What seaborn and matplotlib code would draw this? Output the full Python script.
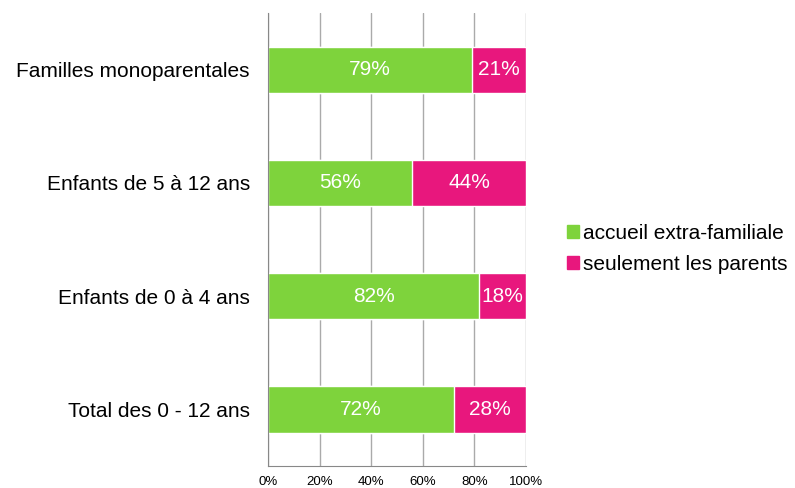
import matplotlib
matplotlib.use("Agg")
import matplotlib.pyplot as plt
import seaborn as sns
import pandas as pd
from matplotlib.patches import Patch

categories = ["Familles monoparentales", "Enfants de 5 à 12 ans",
              "Enfants de 0 à 4 ans", "Total des 0 - 12 ans"]
accueil = [79, 56, 82, 72]
parents = [21, 44, 18, 28]
series_names = ["accueil extra-familiale", "seulement les parents"]

green = "#7ED33C"
pink = "#E8177D"

sns.set_style("white")
plt.rcParams["font.family"] = ["Liberation Sans", "DejaVu Sans"]
plt.rcParams["text.color"] = "black"
plt.rcParams["xtick.color"] = "black"
plt.rcParams["ytick.color"] = "black"

df = pd.DataFrame({"cat": categories, "accueil": accueil, "parents": parents})
df["total"] = df["accueil"] + df["parents"]

fig = plt.figure(figsize=(7.95, 4.88), dpi=100)
ax = fig.add_axes([0.337, 0.045, 0.3245, 0.928])

# stacked: total in pink underneath, green share on top
sns.barplot(data=df, x="total", y="cat", color=pink, width=0.41,
            saturation=1, orient="h", ax=ax)
sns.barplot(data=df, x="accueil", y="cat", color=green, width=0.41,
            saturation=1, orient="h", ax=ax)

# labels centred in each segment
pink_bars = ax.containers[0]
green_bars = ax.containers[1]
for bar, v in zip(green_bars, accueil):
    ax.text(bar.get_x() + bar.get_width() / 2, bar.get_y() + bar.get_height() / 2,
            f"{v}%", ha="center", va="center", color="white", fontsize=15)
for bar, gv, v in zip(pink_bars, accueil, parents):
    ax.text(gv + v / 2, bar.get_y() + bar.get_height() / 2,
            f"{v}%", ha="center", va="center", color="white", fontsize=15)

ax.set_xlim(0, 100)
ax.set_ylim(3.5, -0.5)
ax.set_xticks([0, 20, 40, 60, 80, 100])
ax.set_xticklabels([f"{t}%" for t in [0, 20, 40, 60, 80, 100]], fontsize=9.5)
ax.set_yticks([0, 1, 2, 3])
ax.set_yticklabels(categories, fontsize=15)
ax.tick_params(axis="y", length=0, pad=13)
ax.tick_params(axis="x", length=4, color="#888888", pad=3, direction="out")

# small minor ticks on y between categories
ax.set_yticks([-0.5, 0.5, 1.5, 2.5, 3.5], minor=True)
ax.tick_params(axis="y", which="minor", length=5, color="#888888", direction="out")

ax.set_axisbelow(True)
ax.grid(axis="x", color="#AAAAAA", linewidth=1)
ax.grid(axis="y", visible=False)
for s in ["top", "right"]:
    ax.spines[s].set_visible(False)
for s in ["left", "bottom"]:
    ax.spines[s].set_color("#888888")
ax.set_xlabel("")
ax.set_ylabel("")

handles = [Patch(color=green), Patch(color=pink)]
fig.legend(handles, series_names, loc="center left", bbox_to_anchor=(0.69, 0.49),
           frameon=False, fontsize=15, handlelength=0.55, handleheight=0.55,
           handletextpad=0.2, labelspacing=0.6)

fig.savefig("out.png", dpi=100)
